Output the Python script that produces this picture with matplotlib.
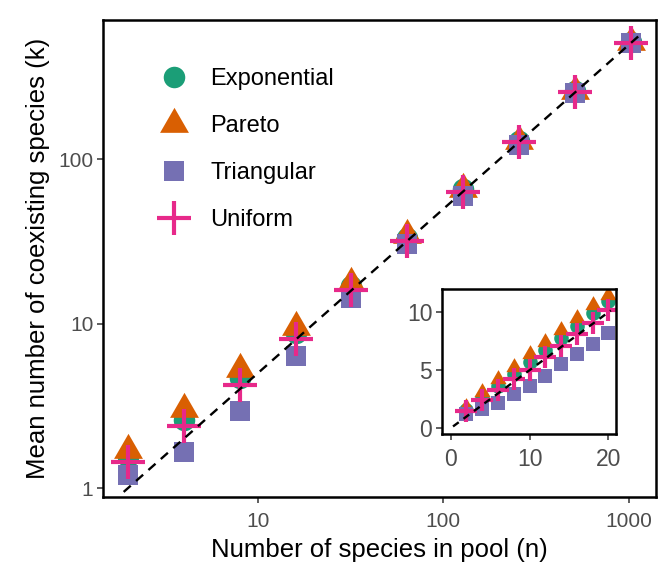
import numpy as np
import matplotlib
matplotlib.use("Agg")
import matplotlib.pyplot as plt
from matplotlib.lines import Line2D

plt.rcParams['font.family'] = ['Liberation Sans', 'DejaVu Sans']

# main panel: pool sizes (powers of two) and mean number of coexisting species
n_main = [2, 4, 8, 16, 32, 64, 128, 256, 512, 1024]
k_exponential = [1.55, 2.6, 4.7, 8.8, 17.0, 33.5, 66, 130, 262, 518]
k_pareto = [1.72, 3.05, 5.35, 9.6, 17.8, 34.5, 66.5, 130, 260, 515]
k_triangular = [1.2, 1.65, 2.95, 6.4, 14.3, 30.5, 60, 122, 252, 508]
k_uniform = [1.45, 2.4, 4.25, 8.1, 16.0, 31.8, 63, 127, 257, 510]

# inset: small pools on linear axes
n_small = [2, 4, 6, 8, 10, 12, 14, 16, 18, 20]
ks_exponential = [1.6, 2.6, 3.6, 4.7, 5.7, 6.7, 7.8, 8.8, 9.9, 11.0]
ks_pareto = [1.8, 3.1, 4.2, 5.3, 6.4, 7.4, 8.5, 9.5, 10.6, 11.5]
ks_triangular = [1.2, 1.65, 2.2, 2.95, 3.6, 4.5, 5.5, 6.4, 7.3, 8.2]
ks_uniform = [1.45, 2.45, 3.25, 4.25, 5.05, 6.1, 7.1, 8.1, 9.1, 10.2]

labels = ["Exponential", "Pareto", "Triangular", "Uniform"]
colors = ["#1B9E77", "#D95F02", "#7570B3", "#E7298A"]

# equilateral triangle like ggplot's shape 17
tri = [(-1, -0.5774), (1, -0.5774), (0, 1.1547), (-1, -0.5774)]
markers = ["o", tri, "s", "+"]


def style(m, c, ms):
    if m == "+":
        return dict(ls="none", marker=m, ms=ms, mew=3, color=c)
    return dict(ls="none", marker=m, ms=ms, mew=0, color=c)


fig = plt.figure(figsize=(6.58, 5.67), dpi=100)
ax = fig.add_axes([0.1565, 0.1235, 0.8405, 0.8412])

main_series = [k_exponential, k_pareto, k_triangular, k_uniform]
main_sizes = [15.5, 24, 15, 25]
for ys, c, m, ms in zip(main_series, colors, markers, main_sizes):
    ax.plot(n_main, ys, **style(m, c, ms))

nl = np.array([1.9, 1150])
ax.plot(nl, nl / 2, ls=(0, (4, 3)), color="black", lw=1.7)

ax.set_xscale("log")
ax.set_yscale("log")
ax.set_xlim(1.47, 1396)
ax.set_ylim(0.885, 705)
ax.set_xticks([10, 100, 1000])
ax.set_xticklabels(["10", "100", "1000"])
ax.set_yticks([1, 10, 100])
ax.set_yticklabels(["1", "10", "100"])
ax.minorticks_off()
ax.tick_params(axis="both", which="both", direction="out", length=4, width=1.1,
               color="#333333", labelcolor="#4D4D4D", labelsize=15, pad=3)
ax.tick_params(axis="x", pad=7)
for sp in ax.spines.values():
    sp.set_linewidth(1.8)
ax.set_xlabel("Number of species in pool (n)", fontsize=18.5, labelpad=5)
ax.set_ylabel("Mean number of coexisting species (k)", fontsize=18.5, labelpad=6)

handles = [Line2D([], [], **style(m, c, ms))
           for c, m, ms in zip(colors, markers, main_sizes)]
ax.legend(handles, labels, loc="upper left", bbox_to_anchor=(0.068, 0.919),
          frameon=False, fontsize=17, labelspacing=1.06, handletextpad=0.55,
          borderaxespad=0)

# inset
axi = fig.add_axes([0.6717, 0.2346, 0.2644, 0.2557])
small_series = [ks_exponential, ks_pareto, ks_triangular, ks_uniform]
small_sizes = [10.5, 13.5, 10, 16]
for ys, c, m, ms in zip(small_series, colors, markers, small_sizes):
    axi.plot(n_small, ys, **style(m, c, ms))
ns = np.array([0.3, 20.3])
axi.plot(ns, ns / 2, ls=(0, (3, 2.5)), color="black", lw=1.7)
axi.set_xlim(-1.1, 20.95)
axi.set_ylim(-0.5, 12.0)
axi.set_xticks([0, 10, 20])
axi.set_yticks([0, 5, 10])
axi.tick_params(axis="both", direction="out", length=4, width=1.1,
                color="#333333", labelcolor="#4D4D4D", labelsize=16.5, pad=3)
axi.tick_params(axis="x", pad=6)
for sp in axi.spines.values():
    sp.set_linewidth(1.8)

fig.savefig("out.png", dpi=100)
